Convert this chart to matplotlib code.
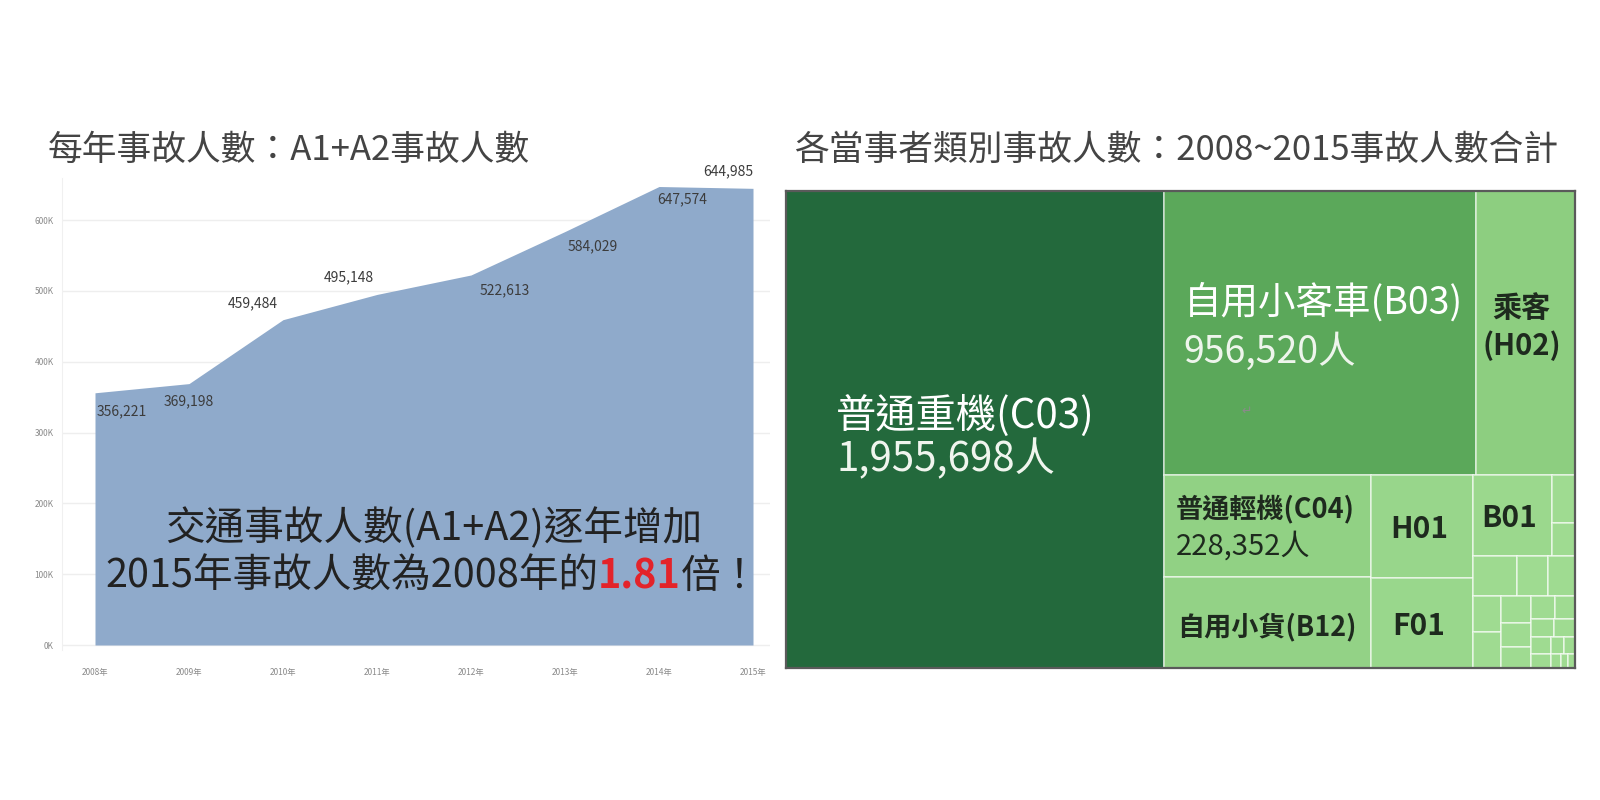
import matplotlib
matplotlib.use("Agg")
import matplotlib.pyplot as plt
from matplotlib.patches import Rectangle
from matplotlib.colors import LinearSegmentedColormap

plt.rcParams['font.family'] = ['Noto Sans CJK TC', 'DejaVu Sans']

# ---------------- data ----------------
years = [2008, 2009, 2010, 2011, 2012, 2013, 2014, 2015]
year_labels = ['2008年', '2009年', '2010年', '2011年', '2012年', '2013年', '2014年', '2015年']
injuries = [356221, 369198, 459484, 495148, 522613, 584029, 647574, 644985]
y_ticks = [0, 100000, 200000, 300000, 400000, 500000, 600000]
y_tick_labels = ['0K', '100K', '200K', '300K', '400K', '500K', '600K']

main_names = ['普通重機(C03)', '自用小客車(B03)', '乘客\n(H02)', '普通輕機(C04)',
              '自用小貨(B12)', 'H01', 'F01', 'B01']
main_values = [1955698, 956520, 305000, 228352, 204000, 114000, 99000, 70000]
side_values = [12000, 8000]
minor_values = [19000, 13600, 11400, 11000, 10800, 9200, 8000, 7000, 6000, 5000,
                4500, 4000, 3500, 3000, 2500, 2000, 1500, 1200, 1000]

left_title = '每年事故人數：A1+A2事故人數'
right_title = '各當事者類別事故人數：2008~2015事故人數合計'
note_line1 = '交通事故人數(A1+A2)逐年增加'
note_line2 = ['2015年事故人數為2008年的', '1.81', '倍！']

# ---------------- figure ----------------
W, H = 1600, 800
fig = plt.figure(figsize=(16, 8), dpi=100)
fig.patch.set_facecolor('white')


def fx(px):
    return px / W


def fy(py):
    return 1 - py / H


# ---------------- left: area chart ----------------
ax = fig.add_axes([fx(62), fy(650), fx(770) - fx(62), fy(178) - fy(650)])
ax.fill_between(years, injuries, 0, color='#8faacb', lw=0, zorder=2)
ax.set_xlim(2008 - 33 / 94, 2015 + 17 / 94)
ax.set_ylim(-7062, 659600)
ax.set_yticks(y_ticks)
ax.set_yticklabels(y_tick_labels)
ax.set_xticks(years)
ax.set_xticklabels(year_labels)
ax.tick_params(axis='both', length=0, labelsize=6, labelcolor='#8a8a8a')
ax.tick_params(axis='y', pad=6)
ax.tick_params(axis='x', pad=13)
ax.grid(axis='y', color='#eeeeee', lw=1, zorder=0)
for s in ['top', 'right', 'bottom']:
    ax.spines[s].set_visible(False)
ax.spines['left'].set_color('#f0f0f0')

label_offsets = [(19, -13), (0, -13), (-22, 12), (-20, 12), (24, -11), (20, -11), (17, -9), (-18, 12)]
for xv, yv, (dx, dy) in zip(years, injuries, label_offsets):
    ax.annotate(f'{yv:,}', (xv, yv), xytext=(dx, dy), textcoords='offset points',
                ha='center', va='center', fontsize=10, color='#3c3c3c', zorder=5,
                annotation_clip=False)

fig.text(fx(48), fy(150), left_title, fontsize=25, color='#444444', ha='left', va='center')

fig.text(fx(434), fy(528), note_line1, fontsize=28.5, color='#222222', ha='center', va='center')
t1 = fig.text(fx(105), fy(577), note_line2[0], fontsize=28.5, color='#222222', ha='left', va='center')
t2 = ax.annotate(note_line2[1], xy=(1, 0.5), xycoords=t1, ha='left', va='center',
                 fontsize=28.5, color='#e3232a', fontweight='bold', annotation_clip=False)
t3 = ax.annotate(note_line2[2], xy=(1, 0.5), xycoords=t2, ha='left', va='center',
                 fontsize=28.5, color='#222222', annotation_clip=False)

# ---------------- right: treemap ----------------
TL, TT, TR, TB = 786, 191, 1575, 668
TW, TH = TR - TL, TB - TT
tax = fig.add_axes([fx(TL), fy(TB), fx(TR) - fx(TL), fy(TT) - fy(TB)])
tax.set_xlim(0, TW)
tax.set_ylim(TH, 0)
tax.set_xticks([])
tax.set_yticks([])
for s in tax.spines.values():
    s.set_color('#5a5a5a')
    s.set_linewidth(1.6)


def leaf_value(node):
    kind = node[0]
    if kind == 'm':
        return main_values[node[1]]
    if kind == 's':
        return side_values[node[1]]
    if kind == 'n':
        return minor_values[node[1]]
    return sum(leaf_value(c) for c in node[1])


def squarify(nodes, x, y, w, h, out):
    vals = [leaf_value(n) for n in nodes]
    scale = w * h / sum(vals)
    areas = [v * scale for v in vals]
    i = 0
    while i < len(areas):
        short = min(w, h)

        def worst(r):
            s = sum(r)
            return max(max(short * short * a / (s * s), s * s / (short * short * a)) for a in r)
        row = [areas[i]]
        j = i + 1
        while j < len(areas) and worst(row + [areas[j]]) <= worst(row):
            row.append(areas[j])
            j += 1
        s = sum(row)
        if w >= h:
            cw = s / h
            yy = y
            for k, a in enumerate(row):
                rh = a / cw
                out.append((nodes[i + k], (x, yy, cw, rh)))
                yy += rh
            x += cw
            w -= cw
        else:
            rh = s / w
            xx = x
            for k, a in enumerate(row):
                rw = a / rh
                out.append((nodes[i + k], (xx, y, rw, rh)))
                xx += rw
            y += rh
            h -= rh
        i = j


def layout(node, x, y, w, h, out):
    kind = node[0]
    if kind in ('m', 's', 'n'):
        out.append((node, (x, y, w, h)))
        return
    children = node[1]
    total = sum(leaf_value(c) for c in children)
    if kind == 'h':
        for c in children:
            cw = w * leaf_value(c) / total
            layout(c, x, y, cw, h, out)
            x += cw
    elif kind == 'v':
        for c in children:
            ch = h * leaf_value(c) / total
            layout(c, x, y, w, ch, out)
            y += ch
    elif kind == 'sq':
        squarify(children, x, y, w, h, out)


minor_nodes = [('n', i) for i in range(len(minor_values))]
tree = ('h', [('m', 0),
              ('v', [('h', [('m', 1), ('m', 2)]),
                     ('h', [('v', [('m', 3), ('m', 4)]),
                            ('v', [('m', 5), ('m', 6)]),
                            ('v', [('h', [('m', 7), ('v', [('s', 0), ('s', 1)])]),
                                   ('sq', minor_nodes)])])])])

rects = []
layout(tree, 0, 0, TW, TH, rects)

cmap = LinearSegmentedColormap.from_list('grn', [(0, '#9fdb91'), (0.16, '#8ccd7f'),
                                                 (0.49, '#5ba85a'), (1.0, '#23693c')])
vmax = max(main_values)
rect_of = {}
for node, (x, y, w, h) in rects:
    v = leaf_value(node)
    tax.add_patch(Rectangle((x, y), w, h, facecolor=cmap(v / vmax),
                            edgecolor=(1, 1, 1, 0.6), lw=1.2, zorder=1))
    rect_of[node] = (x, y, w, h)

dark = '#1e2a1e'
# labels
x, y, w, h = rect_of[('m', 0)]
tax.text(x + 50, y + h / 2 - 14, main_names[0], fontsize=29, color='white', ha='left', va='center')
tax.text(x + 50, y + h / 2 + 30, f'{main_values[0]:,}人', fontsize=29, color='#f0f5ee', ha='left', va='center')

x, y, w, h = rect_of[('m', 1)]
tax.text(x + 19, y + 112, main_names[1], fontsize=27, color='white', ha='left', va='center')
tax.text(x + 19, y + 161, f'{main_values[1]:,}人', fontsize=27, color='#eef5ec', ha='left', va='center')
tax.text(x + 82, y + 220, '↵', fontsize=9, color='#8a8a8a', ha='center', va='center')

x, y, w, h = rect_of[('m', 2)]
tax.text(x + w / 2 - 4, y + 136, main_names[2], fontsize=21, color=dark, fontweight='bold',
         ha='center', va='center', linespacing=1.3)

x, y, w, h = rect_of[('m', 3)]
tax.text(x + 11, y + 35, main_names[3], fontsize=19.5, color=dark, fontweight='bold', ha='left', va='center')
tax.text(x + 11, y + 72, f'{main_values[3]:,}人', fontsize=21, color=dark, ha='left', va='center')

x, y, w, h = rect_of[('m', 4)]
tax.text(x + 13, y + h / 2 + 5, main_names[4], fontsize=19.5, color=dark, fontweight='bold', ha='left', va='center')

for idx in (5, 6, 7):
    x, y, w, h = rect_of[('m', idx)]
    tax.text(x + w / 2 - 3, y + h / 2 + 3, main_names[idx], fontsize=21.5, color=dark,
             fontweight='bold', ha='center', va='center')

fig.text(fx(794), fy(150), right_title, fontsize=25, color='#444444', ha='left', va='center')

fig.savefig('out.png', dpi=100, facecolor='white')
